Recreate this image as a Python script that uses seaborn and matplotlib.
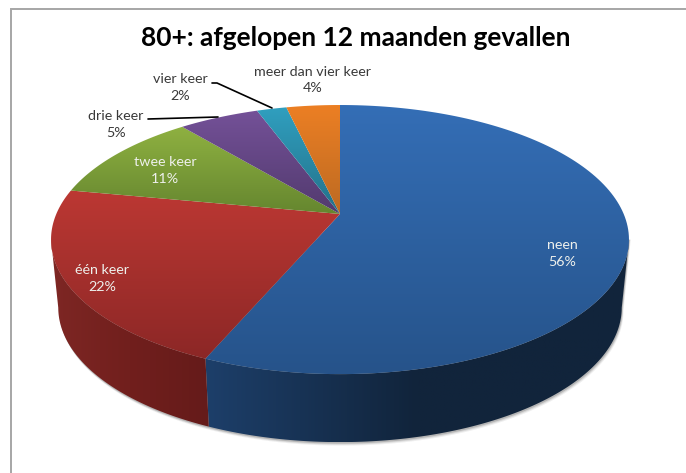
import numpy as np
import seaborn as sns
import matplotlib
matplotlib.use('Agg')
import matplotlib.pyplot as plt
from matplotlib.patches import Polygon

# Data
labels = ['neen', 'één keer', 'twee keer', 'drie keer', 'vier keer', 'meer dan vier keer']
values = [56.4, 21.6, 11.0, 5.4, 2.0, 3.6]

# top colours: light at the top of a slice, darker at the bottom
top_light = ['#346EB6', '#BC3833', '#8FB141', '#745198', '#309FBF', '#EC7F24']
top_dark = ['#26538A', '#8C2726', '#65862F', '#523A6E', '#237189', '#BC6A22']
# side colours, left to right
side_colors = [['#1D3F6A', '#11243B', '#11243B'], ['#7E2724', '#711F1D', '#651B1A']]

sns.set_theme(style='white')
plt.rcParams['font.family'] = ['Lato', 'DejaVu Sans']

W, H = 686, 473
fig = plt.figure(figsize=(W / 100, H / 100), dpi=100, facecolor='white')
ax = fig.add_axes([0, 0, 1, 1])
ax.set_xlim(0, W)
ax.set_ylim(H, 0)
ax.axis('off')

# perspective of the pie disc
cx, cy = 340, 214
persp = 0.19
ax_x, ax_y = 283.7, 129.7
depth, shrink = 68, 0.975


def rim(t):
    u, v = np.sin(t), np.cos(t)
    d = 1 + persp * v
    return cx + ax_x * u / d, cy - ax_y * v / d


def lower(t):
    x, y = rim(t)
    return cx + (x - cx) * shrink, y + depth


def fill_gradient(pts, colors, vertical=True, zorder=2):
    patch = Polygon(pts, closed=True, fc='none', ec='none', transform=ax.transData)
    ax.add_patch(patch)
    cmap = sns.blend_palette(colors, as_cmap=True)
    x0, x1 = pts[:, 0].min(), pts[:, 0].max()
    y0, y1 = pts[:, 1].min(), pts[:, 1].max()
    grad = np.linspace(0, 1, 256)
    grad = grad[:, None] if vertical else grad[None, :]
    im = ax.imshow(grad, cmap=cmap, extent=[x0, x1, y1, y0], aspect='auto',
                   origin='upper', zorder=zorder, vmin=0, vmax=1)
    im.set_clip_path(patch)
    ax.set_xlim(0, W)
    ax.set_ylim(H, 0)


edges = np.radians(np.cumsum([0] + values) * 3.6)

# shadow under the visible wall
t_right, t_left = np.radians(101), np.radians(259)
ts = np.linspace(t_right, t_left, 200)
outline = np.array([lower(t) for t in ts])
for off, a in [(3.5, 0.08), (2.5, 0.12), (1.5, 0.2)]:
    shadow = outline + [0, off]
    shadow = np.vstack([rim(t_right), shadow, rim(t_left)])
    ax.add_patch(Polygon(shadow + [off * 0.5, 0], closed=True, fc='#303030', ec='none', alpha=a, zorder=1))

# visible walls, only the first two slices reach the front
for i in range(2):
    t0 = max(edges[i], t_right)
    t1 = min(edges[i + 1], t_left)
    ts = np.linspace(t0, t1, 120)
    upper_pts = np.array([rim(t) for t in ts])
    lower_pts = np.array([lower(t) for t in ts])
    pts = np.vstack([upper_pts, lower_pts[::-1]])
    fill_gradient(pts, side_colors[i], vertical=False)

# disc
for i, val in enumerate(values):
    ts = np.linspace(edges[i], edges[i + 1], 150)
    pts = np.array([(cx, cy)] + [rim(t) for t in ts])
    fill_gradient(pts, [top_light[i], top_dark[i]], zorder=3)

# frame of the chart area
ax.plot([10.7, 10.7, W], [H, 9.5, 9.5], color='#A6A6A6', lw=1.4, zorder=1, solid_joinstyle='miter')

# title
ax.text(356, 38, '80+: afgelopen 12 maanden gevallen', fontsize=19, fontweight='bold',
        color='black', ha='center', va='center', zorder=5)

# slice labels
dark = '#3A3A3A'
light = '#EEF0EC'
label_pos = [(562, 253.5, light), (102, 278, light), (165, 170, light),
             (116, 124, dark), (180, 87.5, dark), (313, 80, dark)]
for name, val, (x, y, col) in zip(labels, values, label_pos):
    ax.text(x, y, f'{name}\n{round(val)}%', fontsize=10.3, color=col, ha='center', va='center',
            linespacing=1.5, zorder=5)

# leader lines
ax.plot([148, 218], [119, 117], color='black', lw=1.2, zorder=4)
ax.plot([212, 217, 272], [83, 83, 108], color='black', lw=1.2, zorder=4)

fig.savefig('out.png', dpi=100, facecolor='white')
